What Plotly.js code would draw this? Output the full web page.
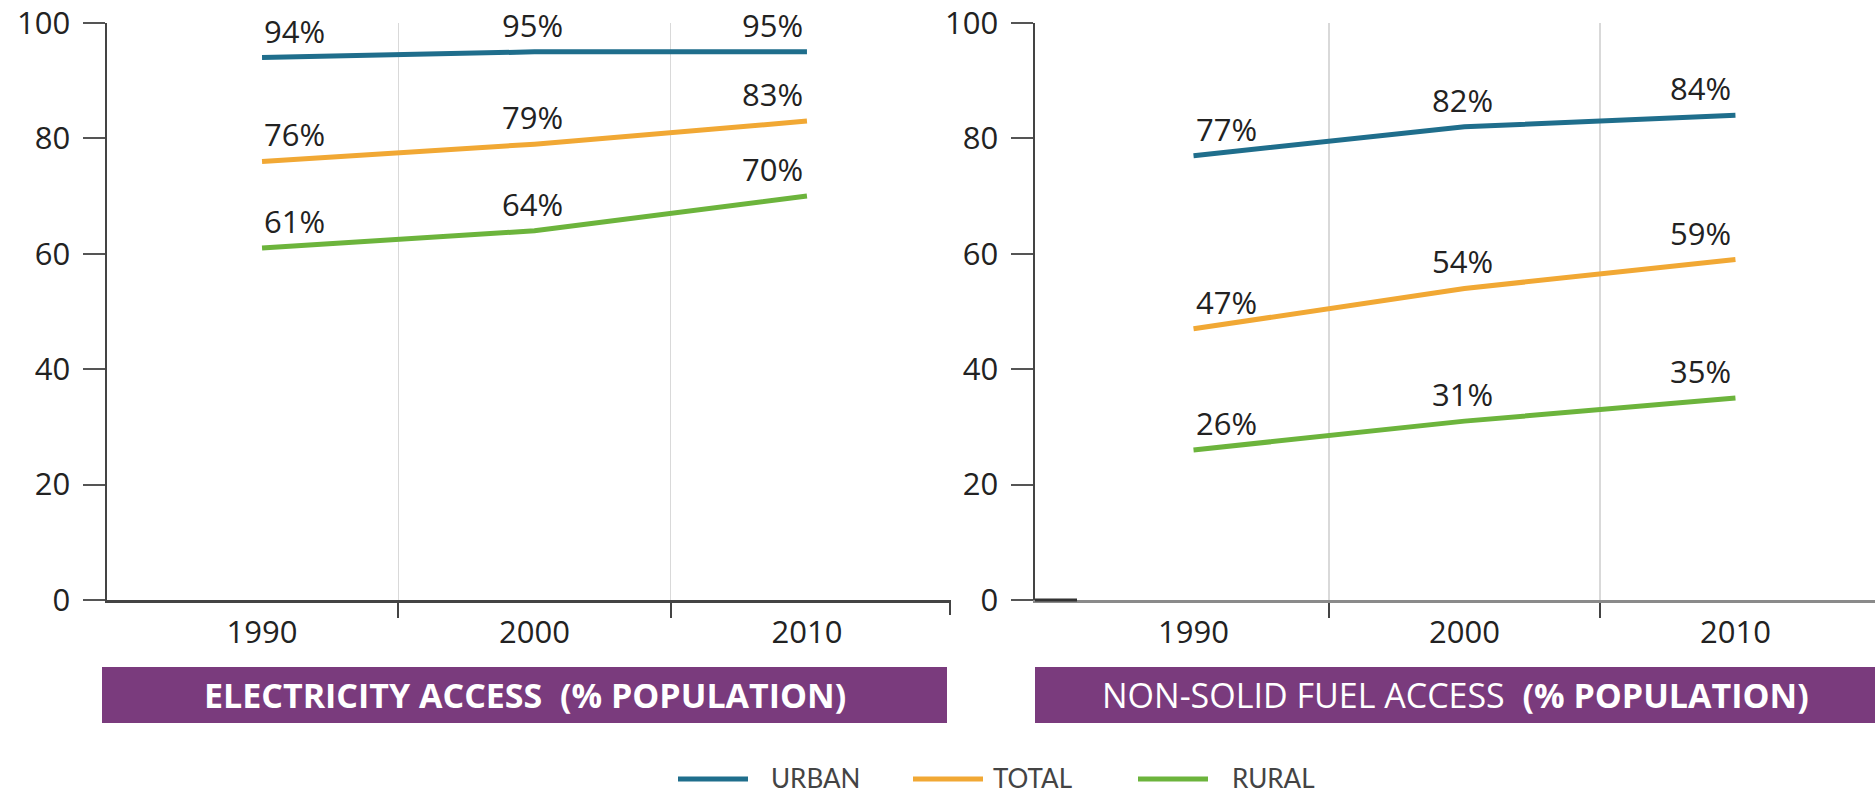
<!DOCTYPE html>
<html>
<head>
<meta charset="utf-8">
<script src="https://cdn.plot.ly/plotly-3.0.1.min.js"></script>
<style>
  html, body { margin: 0; padding: 0; background: #ffffff; }
  #chart { width: 1875px; height: 795px; }
</style>
</head>
<body>
<div id="chart"></div>
<script>
// ---------------- data ----------------
const years = ['1990', '2000', '2010'];
const yearIndex = [0, 1, 2];

const seriesNames = ['URBAN', 'TOTAL', 'RURAL'];
const seriesColors = ['#1f6e8c', '#f1a834', '#6cb43c'];

const electricityUrban = [94, 95, 95];
const electricityTotal = [76, 79, 83];
const electricityRural = [61, 64, 70];

const fuelUrban = [77, 82, 84];
const fuelTotal = [47, 54, 59];
const fuelRural = [26, 31, 35];

const yTickValues = [0, 20, 40, 60, 80, 100];

const panelTitles = [
  '<b>ELECTRICITY ACCESS\u00a0\u00a0(% POPULATION)</b>',
  'NON-SOLID FUEL ACCESS\u00a0\u00a0<b>(% POPULATION)</b>'
];

// ---------------- styling ----------------
const FONT = '"Open Sans", Lato, sans-serif';
const LEGEND_FONT = 'Lato, "Open Sans", sans-serif';
const labelAnchors = ['left', 'center', 'right'];
const labelXShift = [0, -2, -2];
const W = 1875, H = 795;

const annotations = [];
const shapes = [];

function lineTrace(values, idx, xa, ya) {
  // value labels placed through the axis scales
  values.forEach(function (v, j) {
    annotations.push({
      xref: xa, yref: ya,
      x: yearIndex[j], y: v,
      xanchor: labelAnchors[j], yanchor: 'bottom',
      xshift: labelXShift[j], yshift: 4,
      text: v + '%', showarrow: false,
      font: { family: FONT, size: 31, color: '#222222' }
    });
  });
  return {
    type: 'scatter',
    mode: 'lines',
    x: yearIndex,
    y: values,
    xaxis: xa,
    yaxis: ya,
    name: seriesNames[idx],
    showlegend: false,
    line: { color: seriesColors[idx], width: 5 },
    cliponaxis: false,
    hoverinfo: 'skip'
  };
}

const traces = [
  lineTrace(electricityUrban, 0, 'x', 'y'),
  lineTrace(electricityTotal, 1, 'x', 'y'),
  lineTrace(electricityRural, 2, 'x', 'y'),
  lineTrace(fuelUrban, 0, 'x2', 'y2'),
  lineTrace(fuelTotal, 1, 'x2', 'y2'),
  lineTrace(fuelRural, 2, 'x2', 'y2')
];

const yDomain = [195 / H, 772 / H];

function xAxis(domain, range, minorVals, lineColor) {
  return {
    domain: domain,
    range: range,
    tickmode: 'array',
    tickvals: yearIndex,
    ticktext: years,
    ticks: '',
    ticklabelstandoff: 3,
    showgrid: false,
    zeroline: false,
    showline: true,
    linecolor: lineColor,
    linewidth: 2.5,
    tickfont: { family: FONT, size: 31, color: '#222222' },
    minor: {
      tickmode: 'array',
      tickvals: minorVals,
      ticks: 'outside',
      ticklen: 15,
      tickwidth: 2,
      tickcolor: '#444444',
      showgrid: true,
      gridcolor: '#d9d9d9',
      gridwidth: 1.5
    },
    fixedrange: true
  };
}

function yAxis(anchor) {
  return {
    domain: yDomain,
    anchor: anchor,
    range: [0, 100],
    tickmode: 'array',
    tickvals: yTickValues,
    ticks: 'outside',
    ticklen: 22,
    tickwidth: 2,
    tickcolor: '#555555',
    ticklabelstandoff: 6,
    showgrid: false,
    zeroline: false,
    showline: true,
    linecolor: '#444444',
    linewidth: 2.5,
    tickfont: { family: FONT, size: 31, color: '#222222' },
    fixedrange: true
  };
}

// panel title bars
const bars = [
  { x0: 102 / W, x1: 947 / W },
  { x0: 1035 / W, x1: 1 }
];
bars.forEach(function (b, i) {
  shapes.push({
    type: 'rect', xref: 'paper', yref: 'paper',
    x0: b.x0, x1: b.x1, y0: (H - 723) / H, y1: (H - 667) / H,
    fillcolor: '#7a3b7d', line: { width: 0 }, layer: 'below'
  });
  annotations.push({
    xref: 'paper', yref: 'paper',
    x: (b.x0 + b.x1) / 2, y: (H - 695) / H,
    xanchor: 'center', yanchor: 'middle',
    text: panelTitles[i], showarrow: false,
    font: { family: FONT, size: 34, color: '#ffffff' }
  });
});

// end tick on left x axis
shapes.push({
  type: 'line', xref: 'x domain', yref: 'paper',
  x0: 1, x1: 1, y0: yDomain[0], y1: yDomain[0] - 15 / H,
  line: { color: '#444444', width: 2 }
});
// darker start of right x axis
shapes.push({
  type: 'line', xref: 'x2 domain', yref: 'paper',
  x0: 0, x1: 42 / 840, y0: yDomain[0], y1: yDomain[0],
  line: { color: '#333333', width: 3 }
});

// legend
const legendLineX = [678, 913, 1138];
const legendTextX = [770, 992, 1231];
const legendY = (H - 779) / H;
seriesNames.forEach(function (name, i) {
  shapes.push({
    type: 'line', xref: 'paper', yref: 'paper',
    x0: legendLineX[i] / W, x1: (legendLineX[i] + 70) / W,
    y0: legendY, y1: legendY,
    line: { color: seriesColors[i], width: 5 }
  });
  annotations.push({
    xref: 'paper', yref: 'paper',
    x: legendTextX[i] / W, y: 0,
    xanchor: 'left', yanchor: 'bottom',
    borderpad: 0,
    text: name, showarrow: false,
    font: { family: LEGEND_FONT, size: 26, color: '#444444' }
  });
});

const layout = {
  width: W,
  height: H,
  margin: { l: 0, r: 0, t: 0, b: 0 },
  paper_bgcolor: '#ffffff',
  plot_bgcolor: '#ffffff',
  showlegend: false,
  font: { family: FONT, color: '#222222' },
  xaxis: xAxis([107 / W, 950 / W], [-0.569, 2.525], [0.5, 1.5], '#444444'),
  yaxis: yAxis('x'),
  xaxis2: xAxis([1035 / W, 1], [-0.585, 2.515], [0.5, 1.5], '#8a8a8a'),
  yaxis2: yAxis('x2'),
  shapes: shapes,
  annotations: annotations
};
layout.xaxis.anchor = 'y';
layout.xaxis2.anchor = 'y2';

Plotly.newPlot('chart', traces, layout, { displayModeBar: false, staticPlot: true });
</script>
</body>
</html>
